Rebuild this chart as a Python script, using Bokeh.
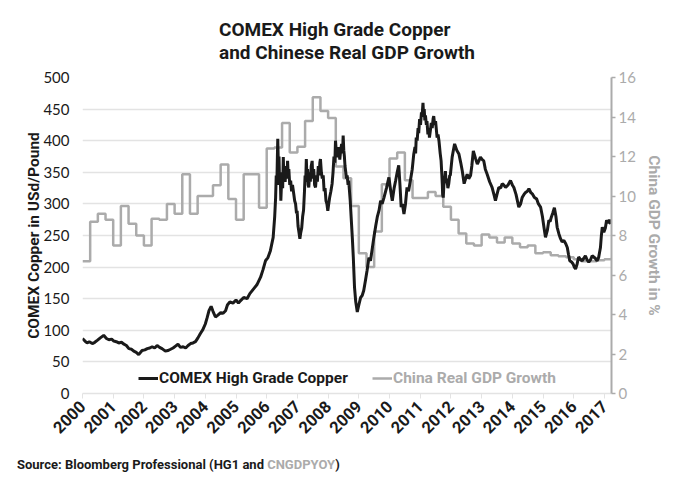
from bokeh.plotting import figure
from bokeh.layouts import column
from bokeh.models import (Range1d, LinearAxis, FixedTicker, Legend, LegendItem, Title, Div)
from bokeh.embed import file_html
from bokeh.resources import INLINE

# ---------------- data ----------------
title_lines = ["COMEX High Grade Copper", "and Chinese Real GDP Growth"]
year_ticks = list(range(2000, 2018))
year_labels = [str(y) for y in year_ticks]
left_ticks = [0, 50, 100, 150, 200, 250, 300, 350, 400, 450, 500]
right_ticks = [0, 2, 4, 6, 8, 10, 12, 14, 16]
source_parts = ["Source: Bloomberg Professional (HG1 and ", "CNGDPYOY", ")"]

# COMEX copper (US cents / lb), by period
cu_years_2000_2006 = [
    2000.00, 2000.08, 2000.15, 2000.22, 2000.32, 2000.40, 2000.48, 2000.58, 2000.69, 2000.78,
    2000.86, 2000.95, 2001.02, 2001.10, 2001.18, 2001.27, 2001.35, 2001.43, 2001.51, 2001.60,
    2001.67, 2001.75, 2001.83, 2001.94, 2002.03, 2002.11, 2002.19, 2002.27, 2002.35, 2002.43,
    2002.51, 2002.59, 2002.70, 2002.78, 2002.87, 2002.95, 2003.03, 2003.11, 2003.19, 2003.28,
    2003.36, 2003.44, 2003.52, 2003.60, 2003.68, 2003.76, 2003.84, 2003.92, 2004.00, 2004.06,
    2004.12, 2004.19, 2004.25, 2004.33, 2004.41, 2004.50, 2004.58, 2004.66, 2004.72, 2004.80,
    2004.90, 2005.00, 2005.08, 2005.15, 2005.25, 2005.36, 2005.45, 2005.58, 2005.68, 2005.80,
    2005.88, 2005.96, 2006.04, 2006.12, 2006.21,
]
cu_values_2000_2006 = [
    87, 83, 80, 82, 79, 81, 84, 88, 92, 87,
    85, 86, 83, 82, 80, 81, 78, 76, 71, 70,
    67, 65, 61.5, 68, 69, 71, 72, 74, 72, 76,
    73, 71, 67, 68, 70, 72, 75, 78, 73, 74,
    72, 76, 79, 80, 82, 88, 95, 101, 110, 120,
    131, 138, 130, 121, 124, 128, 127, 131, 140, 145,
    143, 148, 143, 147, 152, 150, 158, 166, 172, 184,
    196, 210, 215, 226, 247,
]
cu_years_2006_2008 = [
    2006.26, 2006.29, 2006.31, 2006.33, 2006.35, 2006.36, 2006.38, 2006.40, 2006.42, 2006.44,
    2006.46, 2006.48, 2006.50, 2006.52, 2006.54, 2006.56, 2006.58, 2006.60, 2006.62, 2006.64,
    2006.66, 2006.68, 2006.70, 2006.72, 2006.75, 2006.78, 2006.81, 2006.84, 2006.88, 2006.91,
    2006.94, 2006.97, 2006.99, 2007.02, 2007.05, 2007.08, 2007.11, 2007.14, 2007.17, 2007.20,
    2007.23, 2007.25, 2007.27, 2007.29, 2007.31, 2007.33, 2007.35, 2007.37, 2007.40, 2007.42,
    2007.45, 2007.48, 2007.50, 2007.53, 2007.56, 2007.59, 2007.62, 2007.65, 2007.68, 2007.71,
    2007.73, 2007.75, 2007.78, 2007.81, 2007.84, 2007.87, 2007.90, 2007.93, 2007.96, 2007.99,
    2008.02, 2008.05, 2008.09, 2008.13, 2008.16, 2008.19, 2008.22, 2008.24, 2008.27, 2008.30,
    2008.33, 2008.35, 2008.38, 2008.41, 2008.44, 2008.47, 2008.49, 2008.51, 2008.53, 2008.55,
    2008.57, 2008.60, 2008.62, 2008.65, 2008.67,
]
cu_values_2006_2008 = [
    280, 310, 345, 330, 380, 403, 360, 375, 330, 350,
    305, 330, 345, 325, 374, 340, 355, 335, 350, 360,
    340, 368, 345, 355, 330, 337, 320, 330, 316, 305,
    300, 285, 289, 265, 255, 245, 255, 262, 280, 290,
    320, 345, 335, 371, 340, 355, 330, 326, 350, 335,
    360, 368, 340, 355, 330, 326, 345, 335, 360, 345,
    365, 371, 350, 340, 345, 320, 325, 305, 300, 289,
    300, 310, 320, 332, 350, 375, 365, 400, 380, 374,
    390, 384, 370, 385, 395, 380, 408, 385, 375, 360,
    352, 340, 345, 330, 337,
]
cu_years_2008_2010 = [
    2008.72, 2008.75, 2008.79, 2008.82, 2008.86, 2008.90, 2008.95, 2009.00, 2009.06, 2009.11,
    2009.16, 2009.22, 2009.27, 2009.33, 2009.38, 2009.44, 2009.49, 2009.55, 2009.60, 2009.66,
    2009.71, 2009.76, 2009.82, 2009.90, 2009.98, 2010.04, 2010.09, 2010.15, 2010.20, 2010.25,
    2010.30, 2010.34, 2010.38, 2010.42, 2010.47, 2010.52, 2010.57, 2010.62, 2010.68, 2010.74,
]
cu_values_2008_2010 = [
    305, 279, 245, 216, 168, 145, 129, 140, 152, 155,
    163, 180, 195, 215, 210, 230, 247, 265, 279, 290,
    305, 300, 310, 325, 342, 320, 305, 325, 337, 350,
    361, 330, 295, 300, 284, 300, 326, 320, 337, 355,
]
cu_years_2010_2011 = [
    2010.79, 2010.83, 2010.85, 2010.87, 2010.90, 2010.93, 2010.95, 2010.98, 2011.01, 2011.04,
    2011.06, 2011.09, 2011.11, 2011.13, 2011.15, 2011.17, 2011.20, 2011.22, 2011.25, 2011.28,
    2011.30, 2011.33, 2011.36, 2011.39, 2011.42, 2011.44, 2011.47, 2011.50, 2011.53, 2011.55,
    2011.58, 2011.61, 2011.63, 2011.65, 2011.68, 2011.70, 2011.72, 2011.73, 2011.75, 2011.77,
    2011.79, 2011.82, 2011.84, 2011.87, 2011.90, 2011.93, 2011.96, 2011.98,
]
cu_values_2010_2011 = [
    379, 390, 380, 405, 400, 420, 412, 434, 425, 445,
    438, 460, 440, 450, 432, 440, 425, 431, 410, 420,
    405, 416, 428, 420, 435, 439, 425, 431, 415, 405,
    410, 400, 390, 380, 368, 350, 330, 315, 310, 330,
    335, 352, 335, 340, 325, 332, 345, 345,
]
cu_years_2012_2017 = [
    2012.04, 2012.08, 2012.12, 2012.19, 2012.26, 2012.32, 2012.37, 2012.43, 2012.48, 2012.53,
    2012.58, 2012.64, 2012.68, 2012.73, 2012.80, 2012.86, 2012.91, 2012.96, 2013.02, 2013.07,
    2013.12, 2013.18, 2013.26, 2013.34, 2013.40, 2013.45, 2013.50, 2013.56, 2013.62, 2013.67,
    2013.72, 2013.78, 2013.86, 2013.94, 2014.00, 2014.05, 2014.12, 2014.21, 2014.27, 2014.32,
    2014.38, 2014.43, 2014.49, 2014.54, 2014.60, 2014.65, 2014.72, 2014.79, 2014.85, 2014.92,
    2014.98, 2015.03, 2015.08, 2015.14, 2015.19, 2015.23, 2015.27, 2015.32, 2015.37, 2015.42,
    2015.46, 2015.52, 2015.57, 2015.62, 2015.68, 2015.74, 2015.79, 2015.83, 2015.87, 2015.93,
    2015.98, 2016.02, 2016.06, 2016.11, 2016.16, 2016.22, 2016.27, 2016.33, 2016.38, 2016.43,
    2016.49, 2016.55, 2016.60, 2016.65, 2016.70, 2016.76, 2016.81, 2016.87, 2016.90, 2016.93,
    2016.98, 2017.03, 2017.07, 2017.12, 2017.16, 2017.20,
]
cu_values_2012_2017 = [
    374, 385, 395, 385, 379, 365, 352, 332, 340, 347,
    340, 345, 360, 384, 372, 363, 368, 374, 370, 368,
    355, 347, 335, 326, 315, 305, 315, 326, 325, 332,
    330, 326, 330, 337, 330, 326, 315, 295, 300, 310,
    315, 318, 320, 324, 318, 316, 310, 308, 300, 295,
    280, 263, 247, 258, 274, 272, 279, 286, 294, 280,
    263, 252, 245, 240, 242, 237, 231, 220, 210, 208,
    205, 200, 197, 205, 216, 212, 210, 214, 218, 212,
    208, 212, 218, 216, 214, 210, 215, 231, 250, 263,
    255, 262, 274, 270, 275, 268,
]

# China real GDP growth (%), quarterly 1999Q4 .. 2017Q1, plotted at quarter end
gdp_quarters = ["1999Q4"] + [f"{y}Q{q}" for y in range(2000, 2017) for q in (1, 2, 3, 4)] + ["2017Q1"]
gdp_values = [
    6.7,
    8.7, 9.1, 8.8, 7.5,
    9.5, 8.6, 8.0, 7.5,
    8.85, 8.8, 9.6, 9.1,
    11.1, 9.1, 10.0, 10.0,
    10.55, 11.6, 9.85, 8.8,
    11.1, 11.1, 9.4, 12.4,
    12.45, 13.7, 12.2, 12.5,
    13.8, 15.0, 14.3, 13.95,
    11.5, 10.9, 9.5, 7.1,
    6.4, 8.2, 10.6, 11.9,
    12.2, 10.8, 9.9, 9.9,
    10.2, 10.0, 9.45, 8.8,
    8.1, 7.6, 7.5, 8.05,
    7.9, 7.65, 7.9, 7.6,
    7.4, 7.5, 7.1, 7.15,
    7.0, 6.95, 6.9, 6.8,
    6.7, 6.7, 6.75, 6.8,
    6.9,
]

cu_years = (cu_years_2000_2006 + cu_years_2006_2008 + cu_years_2008_2010
            + cu_years_2010_2011 + cu_years_2012_2017)
cu_values = (cu_values_2000_2006 + cu_values_2006_2008 + cu_values_2008_2010
             + cu_values_2010_2011 + cu_values_2012_2017)
assert len(cu_years) == len(cu_values)
gdp_x = [int(q[:4]) + int(q[-1]) * 0.25 for q in gdp_quarters]

# ---------------- styling ----------------
BLACK = "#1a1a1a"
GRAY = "#ababab"
GRID = "#e3e3e3"
BOLD = "Roboto"
LIGHT = "Lato"

p = figure(frame_width=529, frame_height=316,
           min_border_left=82, min_border_right=54, min_border_top=77, min_border_bottom=64,
           x_range=Range1d(2000, 2017.23), y_range=Range1d(0, 500),
           output_backend="svg", toolbar_location=None)
p.outline_line_color = None
p.background_fill_color = "white"
p.border_fill_color = "white"
p.extra_y_ranges = {"gdp": Range1d(0, 16)}

# grid
p.xgrid.visible = False
p.ygrid.ticker = FixedTicker(ticks=left_ticks)
p.ygrid.grid_line_color = GRID
p.ygrid.grid_line_width = 1.5

# x axis
xa = p.xaxis[0]
xa.ticker = FixedTicker(ticks=year_ticks)
xa.major_label_overrides = {y: lab for y, lab in zip(year_ticks, year_labels)}
xa.major_label_orientation = 0.785398
xa.major_label_text_font = BOLD
xa.major_label_text_font_style = "bold"
xa.major_label_text_font_size = "16.5px"
xa.major_label_text_color = BLACK
xa.axis_line_color = GRID
xa.axis_line_width = 1.5
xa.major_tick_line_color = GRID
xa.major_tick_out = 5
xa.major_tick_in = 0
xa.minor_tick_line_color = None
xa.major_label_standoff = 5

# left axis
ya = p.yaxis[0]
ya.ticker = FixedTicker(ticks=left_ticks)
ya.axis_line_color = None
ya.major_tick_line_color = None
ya.minor_tick_line_color = None
ya.major_label_text_font = LIGHT
ya.major_label_text_font_size = "15px"
ya.major_label_text_color = BLACK
ya.major_label_standoff = 7
ya.axis_label = "COMEX Copper in USd/Pound"
ya.axis_label_text_font = BOLD
ya.axis_label_text_font_style = "bold"
ya.axis_label_text_font_size = "15.5px"
ya.axis_label_text_color = BLACK
ya.axis_label_standoff = -3

# right axis
ra = LinearAxis(y_range_name="gdp", ticker=FixedTicker(ticks=right_ticks))
ra.axis_line_color = GRAY
ra.axis_line_width = 2
ra.major_tick_line_color = GRAY
ra.major_tick_line_width = 1.5
ra.major_tick_out = 4
ra.major_tick_in = 0
ra.minor_tick_line_color = None
ra.major_label_text_font = LIGHT
ra.major_label_text_font_size = "15px"
ra.major_label_text_color = GRAY
ra.major_label_standoff = 3
ra.axis_label = "China GDP Growth in %"
ra.axis_label_text_font = BOLD
ra.axis_label_text_font_style = "bold"
ra.axis_label_text_font_size = "15.5px"
ra.axis_label_text_color = GRAY
ra.axis_label_standoff = 6
p.add_layout(ra, "right")

# series
r_gdp = p.step(gdp_x, gdp_values, mode="after", y_range_name="gdp",
               line_color=GRAY, line_width=2.5)
r_cu = p.line(cu_years, cu_values, line_color=BLACK, line_width=3)

# legends (two, so each label has its own colour)
def make_legend(label, rend, color, x):
    lg = Legend(items=[LegendItem(label=label, renderers=[rend])],
                location=(x, 5), orientation="horizontal",
                background_fill_alpha=0, border_line_color=None,
                padding=0, margin=0, spacing=0, label_standoff=1,
                glyph_width=20, glyph_height=20,
                label_text_font=BOLD, label_text_font_style="bold",
                label_text_font_size="15.5px", label_text_color=color)
    p.add_layout(lg)

make_legend("COMEX High Grade Copper", r_cu, BLACK, 56)
make_legend("China Real GDP Growth", r_gdp, GRAY, 290)

# two-line title
p.add_layout(Title(text="\n".join(title_lines), align="center", offset=-9, standoff=28,
                   text_font=BOLD, text_font_style="bold", text_font_size="19px",
                   text_line_height=1.0, text_color=BLACK), "above")

# source line
src_html = (
    '<div style="font-family:Roboto;font-weight:bold;font-size:13px;'
    'line-height:16px;color:%s;padding-left:17px;white-space:nowrap">'
    '%s<span style="color:%s">%s</span>%s</div>'
    % (BLACK, source_parts[0], GRAY, source_parts[1], source_parts[2])
)
src = Div(text=src_html, width=665, height=22, margin=0)

layout = column(p, src, spacing=0)
open("out.html", "w").write(file_html(layout, INLINE))
